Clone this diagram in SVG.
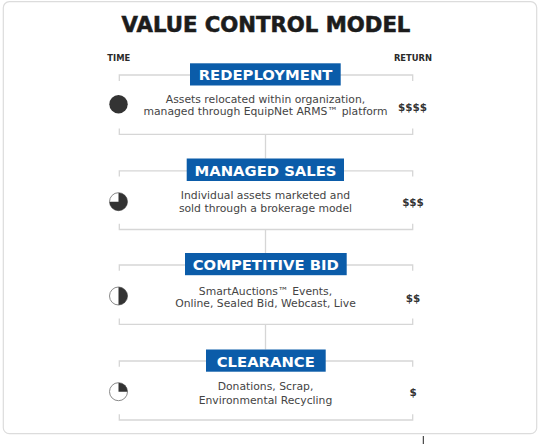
<svg xmlns="http://www.w3.org/2000/svg" width="540" height="444" viewBox="0 0 540 444">
<style>
.title{font-family:"DejaVu Sans",Verdana,sans-serif;font-weight:bold;font-size:21.2px;fill:#1c1c1c;stroke:#1c1c1c;stroke-width:0.6;text-anchor:middle}
.axis{font-family:"DejaVu Sans",Verdana,sans-serif;font-weight:bold;font-size:8.4px;fill:#2a2a2a;text-anchor:middle}
.lbl{font-family:"DejaVu Sans",Verdana,sans-serif;font-weight:bold;font-size:14.8px;fill:#ffffff;text-anchor:middle}
.body{font-family:"DejaVu Sans",Verdana,sans-serif;font-size:10.8px;fill:#444444;text-anchor:middle}
.ret{font-family:"DejaVu Sans",Verdana,sans-serif;font-weight:bold;font-size:10.4px;fill:#333333;text-anchor:middle}
.box{fill:#0b5ca9}
.br{fill:none;stroke:#d6d6d6;stroke-width:1.3}
.con{fill:none;stroke:#d6d6d6;stroke-width:1.3}
.ring{fill:#ffffff;stroke:#8a8a8a;stroke-width:1}
.pie{fill:#333333}
</style>
<rect x="3.3" y="1.7" width="533.4" height="432" rx="6" fill="#ffffff" stroke="#dcdcdc" stroke-width="1.2"/>
<line x1="423.3" y1="436" x2="423.3" y2="444" stroke="#222222" stroke-width="1"/>
<text class="title" x="266" y="32">VALUE CONTROL MODEL</text>
<text class="axis" x="118.8" y="61">TIME</text>
<text class="axis" x="413" y="61">RETURN</text>
<g id="connectors">
<line class="con" x1="265.5" y1="134.3" x2="265.5" y2="158.5"/>
<line class="con" x1="265.5" y1="229.5" x2="265.5" y2="253"/>
<line class="con" x1="265.5" y1="324.3" x2="265.5" y2="349.5"/>
</g>
<g id="redeployment">
<path class="br" d="M119.3,81 V75 H412.7 V81 M119.3,128.5 V134.3 H412.7 V128.5"/>
<rect class="box" x="190" y="63.3" width="150.7" height="22.2"/>
<text class="lbl" x="265.5" y="80.3">REDEPLOYMENT</text>
<circle class="pie" cx="118.5" cy="104.3" r="9.2"/>
<text class="body" x="265.5" y="102.7">Assets relocated within organization,</text>
<text class="body" x="265.5" y="115.2">managed through EquipNet ARMS™ platform</text>
<text class="ret" x="412.5" y="111">$$$$</text>
</g>
<g id="managed-sales">
<path class="br" d="M119.3,176.5 V170.8 H412.7 V176.5 M119.3,223.8 V229.5 H412.7 V223.8"/>
<rect class="box" x="186.7" y="158.5" width="157.3" height="22.5"/>
<text class="lbl" x="265.5" y="175.8">MANAGED SALES</text>
<circle class="ring" cx="118.5" cy="201.7" r="9"/>
<path class="pie" d="M118.5,201.7 V192.7 A9,9 0 1 1 109.5,201.7 Z"/>
<text class="body" x="265.5" y="199.3">Individual assets marketed and</text>
<text class="body" x="265.5" y="211.8">sold through a brokerage model</text>
<text class="ret" x="413" y="206">$$$</text>
</g>
<g id="competitive-bid">
<path class="br" d="M119.3,270.7 V265 H412.7 V270.7 M119.3,318.6 V324.3 H412.7 V318.6"/>
<rect class="box" x="185" y="253" width="161.7" height="22.2"/>
<text class="lbl" x="265.8" y="270.2">COMPETITIVE BID</text>
<circle class="ring" cx="118.5" cy="296" r="9"/>
<path class="pie" d="M118.5,287 A9,9 0 0 1 118.5,305 Z"/>
<text class="body" x="265.5" y="295.2">SmartAuctions™ Events,</text>
<text class="body" x="265.5" y="307">Online, Sealed Bid, Webcast, Live</text>
<text class="ret" x="413" y="301.7">$$</text>
</g>
<g id="clearance">
<path class="br" d="M119.3,366.7 V361 H412.7 V366.7 M119.3,414.3 V420 H412.7 V414.3"/>
<rect class="box" x="206" y="349.5" width="119.7" height="22.2"/>
<text class="lbl" x="265.8" y="366.7">CLEARANCE</text>
<circle class="ring" cx="118.5" cy="391.7" r="9"/>
<path class="pie" d="M118.5,391.7 V382.7 A9,9 0 0 1 127.5,391.7 Z"/>
<text class="body" x="265.5" y="390.2">Donations, Scrap,</text>
<text class="body" x="265.5" y="404">Environmental Recycling</text>
<text class="ret" x="413" y="395.7">$</text>
</g>
</svg>
